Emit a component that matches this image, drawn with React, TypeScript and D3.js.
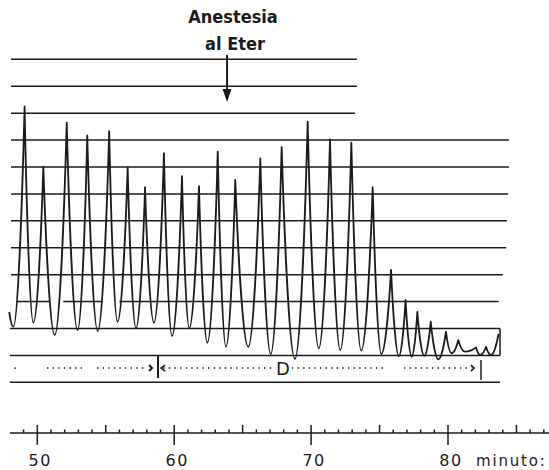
import React from "react";
import * as d3 from "d3";

// recording trace: turning points (time in minutes, amplitude in grid units)
const traceT = [47.95, 48.25, 49.07, 49.71, 50.44, 51.27, 52.15, 52.94, 53.65, 54.41, 55.25, 55.86, 56.6, 57.21, 57.87, 58.52, 59.25, 59.84, 60.57, 61.1, 61.81, 62.42, 63.18, 63.78, 64.46, 65.41, 66.29, 67.05, 67.85, 68.82, 69.75, 70.56, 71.38, 72.13, 72.94, 73.66, 74.5, 75.13, 75.84, 76.41, 76.9, 77.35, 77.76, 78.27, 78.74, 79.29, 79.85, 80.27, 80.75, 81.24, 82.05, 82.34, 82.78, 83.14, 83.69];
const traceV = [0.62, 0.07, 8.25, 0.22, 6.01, -0.24, 7.65, -0.06, 7.17, -0.09, 7.33, 0.25, 5.98, 0.01, 5.25, 0.22, 6.51, -0.28, 5.66, 0.01, 5.29, -0.53, 6.57, -0.68, 5.52, -0.68, 6.32, -0.95, 6.74, -1.13, 7.68, -0.74, 7.02, -0.8, 6.9, -0.82, 5.25, -0.95, 2.18, -1.03, 1.06, -1.05, 0.62, -1.02, 0.25, -1.15, -0.12, -0.92, -0.43, -0.86, -0.7, -0.98, -0.68, -0.98, -0.2];

// horizontal reference lines: level and extent in minutes
const gridLevel = [10, 9, 8, 7, 6, 5, 4, 3, 2, 1, 1, 1, 0, -1, -2];
const gridFrom = [48.08, 48.08, 48.08, 48.08, 48.08, 48.08, 48.08, 48.08, 48.08, 48.5, 51.9, 56.0, 48.0, 48.0, 48.0];
const gridTo = [73.35, 73.35, 73.2, 84.45, 84.45, 84.4, 84.3, 84.25, 84.0, 50.9, 54.8, 83.7, 83.8, 83.8, 83.8];

const boxEnd = 83.8;
const etherTime = 63.86;
const dLevel = -1.47;
const dStart = 58.82;
const dEnd = 82.41;
const dDots = [[50.71, 53.49], [54.36, 57.9], [59.2, 67.45], [68.6, 75.32], [76.78, 81.7]];

const axisFrom = 48.0;
const axisTo = 87.4;
const minuteTicks = d3.range(49, 88);
const majorTicks = [50, 60, 70, 80];

const x = d3.scaleLinear().domain([50, 80]).range([37.3, 448]);
const y = d3.scaleLinear().domain([0, 10]).range([328.5, 59.3]);

const ink = "#1b1b1b";

function tracePath() {
  const pts = traceT.map((t, i) => [x(t), y(traceV[i])]);
  const p = d3.path();
  p.moveTo(pts[0][0], pts[0][1]);
  for (let i = 1; i < pts.length; i++) {
    const a = pts[i - 1], b = pts[i];
    const dx = b[0] - a[0];
    const h = Math.abs(b[1] - a[1]);
    if (b[1] < a[1]) {
      // rising: round foot, sharp top
      p.bezierCurveTo(a[0] + 0.38 * dx, a[1], b[0] - 0.22 * dx, b[1] + 0.45 * h, b[0], b[1]);
    } else {
      p.bezierCurveTo(a[0] + 0.22 * dx, a[1] + 0.45 * h, b[0] - 0.38 * dx, b[1], b[0], b[1]);
    }
  }
  return p.toString();
}

export default function App() {
  const yD = y(dLevel);
  const xa = x(etherTime);
  const axisY = 433;

  return (
    <svg width={549} height={470} style={{ position: "absolute", left: 0, top: 0, background: "#fff" }}>
      {/* grid */}
      {gridLevel.map((lv, i) => (
        <line key={"g" + i} x1={x(gridFrom[i])} x2={x(gridTo[i])} y1={y(lv)} y2={y(lv)} stroke={ink} strokeWidth={1.5} />
      ))}
      <line x1={x(boxEnd)} x2={x(boxEnd)} y1={y(0)} y2={y(-1)} stroke={ink} strokeWidth={1.5} />

      {/* trace */}
      <path d={tracePath()} fill="none" stroke={ink} strokeWidth={1.8} strokeLinejoin="round" />

      {/* annotation */}
      <text x={233} y={23} textAnchor="middle" fontFamily="'DejaVu Sans Condensed', 'DejaVu Sans', sans-serif" fontWeight="bold" fontSize={18} fill={ink}>Anestesia</text>
      <text x={235} y={50} textAnchor="middle" fontFamily="'DejaVu Sans Condensed', 'DejaVu Sans', sans-serif" fontWeight="bold" fontSize={18} fill={ink}>al Eter</text>
      <line x1={xa} x2={xa} y1={55} y2={92} stroke={ink} strokeWidth={2} />
      <path d={`M${xa - 4.5},89 L${xa + 4.5},89 L${xa},102 Z`} fill={ink} />

      {/* D interval */}
      <circle cx={x(48.37)} cy={yD} r={0.9} fill={ink} />
      {dDots.map((s, i) => (
        <line key={"d" + i} x1={x(s[0])} x2={x(s[1])} y1={yD} y2={yD} stroke={ink} strokeWidth={1.6} strokeDasharray="1.4 4.2" />
      ))}
      <path d={`M${x(dStart) - 9},${yD - 3} L${x(dStart) - 6},${yD} L${x(dStart) - 9},${yD + 3}`} fill="none" stroke={ink} strokeWidth={2} />
      <path d={`M${x(dStart) + 7},${yD - 3} L${x(dStart) + 3},${yD} L${x(dStart) + 7},${yD + 3}`} fill="none" stroke={ink} strokeWidth={1.6} />
      <line x1={x(dStart)} x2={x(dStart)} y1={y(-1)} y2={378} stroke={ink} strokeWidth={2} />
      <path d={`M${x(dEnd) - 10},${yD - 3} L${x(dEnd) - 7},${yD} L${x(dEnd) - 10},${yD + 3}`} fill="none" stroke={ink} strokeWidth={1.6} />
      <line x1={x(dEnd)} x2={x(dEnd)} y1={360} y2={380} stroke={ink} strokeWidth={1.5} />
      <rect x={x(67.95) - 8} y={yD - 8} width={16} height={16} fill="#fff" />
      <text x={x(67.95)} y={375} textAnchor="middle" fontFamily="'DejaVu Sans', sans-serif" fontSize={18} fill={ink}>D</text>

      {/* time axis */}
      <g transform={`translate(0,${axisY})`}>
        <line x1={x(axisFrom)} x2={x(axisTo)} y1={0} y2={0} stroke={ink} strokeWidth={1.5} />
        {minuteTicks.map((m) => {
          const major = m % 10 === 0;
          const half = m % 5 === 0;
          return (
            <line key={"t" + m} x1={x(m)} x2={x(m)} y1={major ? -8 : half ? -8 : -3.5} y2={major ? 12 : 0} stroke={ink} strokeWidth={1.5} />
          );
        })}
        {majorTicks.map((m) => (
          <text key={"l" + m} x={x(m) + 3} y={33} textAnchor="middle" fontFamily="'DejaVu Sans', sans-serif" fontSize={16} letterSpacing={1.5} fill={ink}>{m}</text>
        ))}
        <text x={476} y={33} fontFamily="'DejaVu Sans', sans-serif" fontSize={15} letterSpacing={1.8} fill={ink}>minuto:</text>
      </g>
    </svg>
  );
}
